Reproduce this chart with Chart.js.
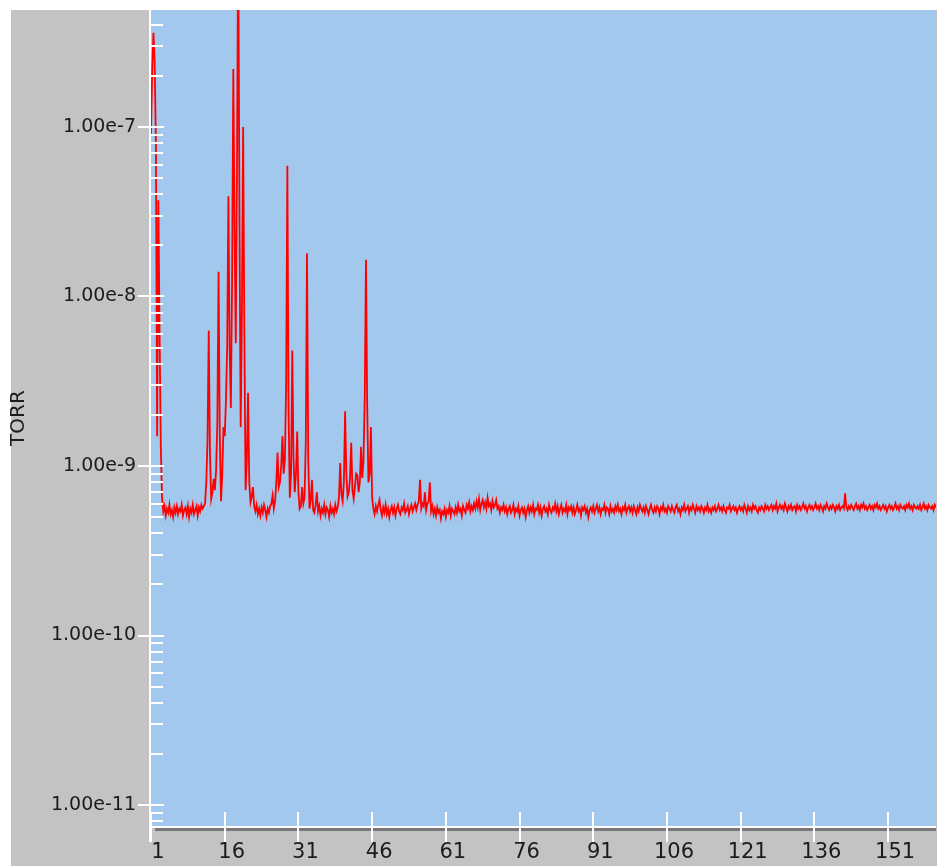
<!DOCTYPE html>
<html>
<head>
<meta charset="utf-8">
<script src="https://cdn.jsdelivr.net/npm/chart.js@4.4.1/dist/chart.umd.min.js"></script>
<style>
html,body{margin:0;padding:0;background:#ffffff;overflow:hidden}
canvas{display:block}
</style>
</head>
<body>
<canvas id="c" width="937" height="866"></canvas>
<script>
// ---- data ----
const massStart = 1;        // amu of the first sample
const massStep = 0.25;      // amu between samples
const xTickValues = [1, 16, 31, 46, 61, 76, 91, 106, 121, 136, 151];
const yDecadeTicks = [1e-11, 1e-10, 1e-9, 1e-8, 1e-7];
const yAxisTitle = 'TORR';
const yMin = 7.52e-12;
const yMax = 4.9e-7;
const xMin = 1;
const xMax = 160.75;

// pressure in Torr, 8 samples per row (2 amu per row)
const pressureTorr = [
/*   1 */ 9e-8, 2.2e-7, 3.6e-7, 2.4e-7, 8e-8, 1.5e-9, 3.7e-8, 6e-9,
/*   3 */ 1.3e-9, 6.5e-10, 5.4e-10, 5.8e-10, 5.1e-10, 5.6e-10, 5.3e-10, 5.9e-10,
/*   5 */ 5.2e-10, 5.5e-10, 5.0e-10, 5.7e-10, 5.3e-10, 5.8e-10, 5.2e-10, 5.6e-10,
/*   7 */ 5.4e-10, 5.9e-10, 5.1e-10, 5.5e-10, 5.7e-10, 5.2e-10, 5.8e-10, 5.0e-10,
/*   9 */ 5.6e-10, 5.3e-10, 5.9e-10, 5.2e-10, 5.5e-10, 5.8e-10, 5.1e-10, 5.7e-10,
/*  11 */ 5.4e-10, 5.9e-10, 5.6e-10, 5.8e-10, 6.0e-10, 8.0e-10, 1.4e-9, 6.3e-9,
/*  13 */ 1.2e-9, 6.4e-10, 7.0e-10, 8.4e-10, 7.2e-10, 9.5e-10, 1.8e-9, 1.4e-8,
/*  15 */ 1.5e-9, 6.2e-10, 9.0e-10, 1.7e-9, 1.5e-9, 2.4e-9, 5.0e-9, 3.9e-8,
/*  17 */ 5.0e-9, 2.2e-9, 1.2e-8, 2.2e-7, 2.5e-8, 5.3e-9, 6.0e-8, 1.5e-6,
/*  19 */ 3.0e-8, 1.7e-9, 8.0e-9, 1.0e-7, 6.0e-9, 7.2e-10, 1.1e-9, 2.7e-9,
/*  21 */ 8.0e-10, 6.1e-10, 6.6e-10, 7.5e-10, 5.8e-10, 5.4e-10, 5.9e-10, 5.2e-10,
/*  23 */ 5.6e-10, 5.1e-10, 5.7e-10, 5.3e-10, 5.9e-10, 5.5e-10, 5.0e-10, 5.6e-10,
/*  25 */ 5.3e-10, 5.8e-10, 6.0e-10, 6.7e-10, 5.6e-10, 6.2e-10, 8.0e-10, 1.2e-9,
/*  27 */ 7.5e-10, 8.0e-10, 1.0e-9, 1.5e-9, 9.0e-10, 1.1e-9, 3.0e-9, 5.9e-8,
/*  29 */ 2.0e-9, 6.5e-10, 9.0e-10, 4.8e-9, 1.1e-9, 7.0e-10, 9.0e-10, 1.6e-9,
/*  31 */ 7.0e-10, 5.6e-10, 5.8e-10, 7.5e-10, 6.0e-10, 6.5e-10, 1.4e-9, 1.8e-8,
/*  33 */ 1.1e-9, 5.6e-10, 6.2e-10, 8.3e-10, 5.5e-10, 5.3e-10, 5.9e-10, 7.0e-10,
/*  35 */ 5.4e-10, 5.8e-10, 5.1e-10, 5.6e-10, 5.3e-10, 5.9e-10, 5.2e-10, 5.7e-10,
/*  37 */ 5.5e-10, 5.0e-10, 5.8e-10, 5.3e-10, 5.6e-10, 5.2e-10, 5.9e-10, 5.4e-10,
/*  39 */ 5.7e-10, 6.5e-10, 1.04e-9, 6.8e-10, 6.2e-10, 8.0e-10, 2.1e-9, 9.0e-10,
/*  41 */ 6.6e-10, 7.0e-10, 8.5e-10, 1.37e-9, 7.2e-10, 6.4e-10, 7.5e-10, 9.0e-10,
/*  43 */ 8.8e-10, 7.0e-10, 8.0e-10, 1.3e-9, 8.5e-10, 1.1e-9, 2.6e-9, 1.65e-8,
/*  45 */ 2.2e-9, 8.0e-10, 9.0e-10, 1.7e-9, 6.5e-10, 5.6e-10, 5.2e-10, 5.8e-10,
/*  47 */ 5.4e-10, 5.9e-10, 6.3e-10, 5.5e-10, 5.1e-10, 5.7e-10, 5.3e-10, 5.9e-10,
/*  49 */ 5.2e-10, 5.6e-10, 5.0e-10, 5.5e-10, 5.8e-10, 5.3e-10, 5.7e-10, 5.1e-10,
/*  51 */ 5.6e-10, 5.9e-10, 5.4e-10, 5.2e-10, 5.7e-10, 5.5e-10, 6.0e-10, 5.3e-10,
/*  53 */ 5.5e-10, 5.8e-10, 5.2e-10, 5.6e-10, 5.9e-10, 5.4e-10, 5.7e-10, 6.0e-10,
/*  55 */ 5.5e-10, 5.9e-10, 6.2e-10, 8.3e-10, 5.6e-10, 6.0e-10, 5.8e-10, 7.0e-10,
/*  57 */ 5.5e-10, 6.0e-10, 6.2e-10, 8.0e-10, 5.4e-10, 5.8e-10, 5.2e-10, 5.6e-10,
/*  59 */ 5.1e-10, 5.7e-10, 5.3e-10, 5.5e-10, 4.9e-10, 5.4e-10, 5.2e-10, 5.6e-10,
/*  61 */ 5.0e-10, 5.5e-10, 5.3e-10, 5.8e-10, 5.1e-10, 5.6e-10, 5.4e-10, 5.2e-10,
/*  63 */ 5.7e-10, 5.3e-10, 5.9e-10, 5.4e-10, 5.6e-10, 5.1e-10, 5.8e-10, 5.5e-10,
/*  65 */ 5.3e-10, 5.9e-10, 5.6e-10, 6.1e-10, 5.4e-10, 5.8e-10, 5.5e-10, 6.0e-10,
/*  67 */ 5.6e-10, 6.2e-10, 5.7e-10, 6.4e-10, 5.5e-10, 6.0e-10, 6.3e-10, 5.7e-10,
/*  69 */ 6.1e-10, 5.6e-10, 6.5e-10, 5.8e-10, 6.0e-10, 5.5e-10, 6.2e-10, 5.7e-10,
/*  71 */ 5.9e-10, 6.3e-10, 5.6e-10, 5.8e-10, 5.3e-10, 5.7e-10, 5.5e-10, 5.9e-10,
/*  73 */ 5.4e-10, 5.7e-10, 5.2e-10, 5.6e-10, 5.8e-10, 5.3e-10, 5.5e-10, 5.9e-10,
/*  75 */ 5.2e-10, 5.6e-10, 5.4e-10, 5.8e-10, 5.1e-10, 5.5e-10, 5.7e-10, 5.3e-10,
/*  77 */ 5.6e-10, 5.0e-10, 5.5e-10, 5.8e-10, 5.3e-10, 5.7e-10, 5.4e-10, 5.9e-10,
/*  79 */ 5.2e-10, 5.6e-10, 5.5e-10, 5.9e-10, 5.3e-10, 5.7e-10, 5.1e-10, 5.6e-10,
/*  81 */ 5.8e-10, 5.4e-10, 5.6e-10, 5.2e-10, 5.9e-10, 5.5e-10, 5.3e-10, 5.7e-10,
/*  83 */ 5.5e-10, 6.0e-10, 5.4e-10, 5.8e-10, 5.2e-10, 5.6e-10, 5.9e-10, 5.3e-10,
/*  85 */ 5.6e-10, 5.4e-10, 5.9e-10, 5.2e-10, 5.7e-10, 5.5e-10, 5.8e-10, 5.3e-10,
/*  87 */ 5.7e-10, 5.2e-10, 5.5e-10, 5.9e-10, 5.4e-10, 5.6e-10, 5.1e-10, 5.7e-10,
/*  89 */ 5.5e-10, 5.8e-10, 5.3e-10, 5.6e-10, 5.0e-10, 5.5e-10, 5.7e-10, 5.4e-10,
/*  91 */ 5.8e-10, 5.3e-10, 5.6e-10, 5.9e-10, 5.4e-10, 5.7e-10, 5.2e-10, 5.6e-10,
/*  93 */ 5.5e-10, 5.9e-10, 5.3e-10, 5.7e-10, 5.6e-10, 5.2e-10, 5.8e-10, 5.4e-10,
/*  95 */ 5.6e-10, 5.3e-10, 5.8e-10, 5.5e-10, 5.9e-10, 5.4e-10, 5.6e-10, 5.2e-10,
/*  97 */ 5.7e-10, 5.5e-10, 5.9e-10, 5.3e-10, 5.6e-10, 5.8e-10, 5.4e-10, 5.7e-10,
/*  99 */ 5.3e-10, 5.8e-10, 5.5e-10, 5.2e-10, 5.7e-10, 5.4e-10, 5.9e-10, 5.6e-10,
/* 101 */ 5.4e-10, 5.7e-10, 5.3e-10, 5.8e-10, 5.5e-10, 5.2e-10, 5.6e-10, 5.9e-10,
/* 103 */ 5.5e-10, 5.3e-10, 5.7e-10, 5.4e-10, 5.8e-10, 5.6e-10, 5.2e-10, 5.7e-10,
/* 105 */ 5.5e-10, 5.9e-10, 5.4e-10, 5.6e-10, 5.3e-10, 5.8e-10, 5.6e-10, 5.4e-10,
/* 107 */ 5.8e-10, 5.5e-10, 5.3e-10, 5.7e-10, 5.9e-10, 5.4e-10, 5.6e-10, 5.2e-10,
/* 109 */ 5.7e-10, 5.5e-10, 5.9e-10, 5.4e-10, 5.6e-10, 5.8e-10, 5.3e-10, 5.7e-10,
/* 111 */ 5.5e-10, 5.9e-10, 5.6e-10, 5.3e-10, 5.8e-10, 5.5e-10, 5.7e-10, 5.4e-10,
/* 113 */ 5.8e-10, 5.6e-10, 5.3e-10, 5.7e-10, 5.5e-10, 5.9e-10, 5.4e-10, 5.6e-10,
/* 115 */ 5.3e-10, 5.7e-10, 5.5e-10, 5.8e-10, 5.4e-10, 5.6e-10, 5.9e-10, 5.5e-10,
/* 117 */ 5.7e-10, 5.4e-10, 5.8e-10, 5.5e-10, 5.3e-10, 5.7e-10, 5.6e-10, 5.9e-10,
/* 119 */ 5.4e-10, 5.6e-10, 5.8e-10, 5.5e-10, 5.7e-10, 5.3e-10, 5.6e-10, 5.8e-10,
/* 121 */ 5.5e-10, 5.7e-10, 5.4e-10, 5.9e-10, 5.6e-10, 5.3e-10, 5.8e-10, 5.5e-10,
/* 123 */ 5.7e-10, 5.4e-10, 5.9e-10, 5.6e-10, 5.8e-10, 5.5e-10, 5.3e-10, 5.7e-10,
/* 125 */ 5.5e-10, 5.8e-10, 5.6e-10, 5.4e-10, 5.9e-10, 5.6e-10, 5.8e-10, 5.5e-10,
/* 127 */ 5.7e-10, 5.9e-10, 5.5e-10, 5.8e-10, 5.6e-10, 6.0e-10, 5.4e-10, 5.7e-10,
/* 129 */ 5.9e-10, 5.6e-10, 5.8e-10, 5.5e-10, 6.0e-10, 5.7e-10, 5.4e-10, 5.8e-10,
/* 131 */ 5.6e-10, 5.9e-10, 5.5e-10, 5.7e-10, 5.8e-10, 5.4e-10, 5.9e-10, 5.6e-10,
/* 133 */ 5.8e-10, 5.5e-10, 5.7e-10, 6.0e-10, 5.6e-10, 5.8e-10, 5.4e-10, 5.7e-10,
/* 135 */ 5.9e-10, 5.6e-10, 5.8e-10, 5.5e-10, 5.7e-10, 6.0e-10, 5.6e-10, 5.8e-10,
/* 137 */ 5.5e-10, 5.9e-10, 5.7e-10, 5.4e-10, 5.8e-10, 5.6e-10, 6.0e-10, 5.7e-10,
/* 139 */ 5.5e-10, 5.8e-10, 5.6e-10, 5.9e-10, 5.7e-10, 5.4e-10, 5.8e-10, 5.6e-10,
/* 141 */ 5.9e-10, 5.5e-10, 5.7e-10, 5.8e-10, 5.6e-10, 6.9e-10, 5.7e-10, 5.5e-10,
/* 143 */ 5.8e-10, 5.6e-10, 5.9e-10, 5.7e-10, 5.5e-10, 5.8e-10, 6.0e-10, 5.6e-10,
/* 145 */ 5.8e-10, 5.5e-10, 5.9e-10, 5.7e-10, 6.0e-10, 5.6e-10, 5.8e-10, 5.5e-10,
/* 147 */ 5.7e-10, 5.9e-10, 5.6e-10, 5.8e-10, 5.5e-10, 5.9e-10, 5.7e-10, 6.0e-10,
/* 149 */ 5.6e-10, 5.8e-10, 5.5e-10, 5.7e-10, 5.9e-10, 5.6e-10, 5.8e-10, 5.4e-10,
/* 151 */ 5.7e-10, 5.9e-10, 5.6e-10, 5.8e-10, 5.5e-10, 5.7e-10, 6.0e-10, 5.6e-10,
/* 153 */ 5.8e-10, 5.5e-10, 5.9e-10, 5.7e-10, 5.6e-10, 5.8e-10, 5.5e-10, 5.9e-10,
/* 155 */ 5.7e-10, 6.0e-10, 5.6e-10, 5.8e-10, 5.5e-10, 5.9e-10, 5.7e-10, 5.6e-10,
/* 157 */ 5.8e-10, 5.6e-10, 5.9e-10, 5.5e-10, 5.7e-10, 6.0e-10, 5.6e-10, 5.8e-10,
/* 159 */ 5.5e-10, 5.9e-10, 5.7e-10, 5.6e-10, 5.8e-10, 5.5e-10, 5.9e-10, 5.7e-10
];

// ---- build the table the library needs ----
const points = pressureTorr.map((p, i) => ({ x: massStart + i * massStep, y: p }));
const yMinorTicks = [];
for (const d of [1e-12, 1e-11, 1e-10, 1e-9, 1e-8, 1e-7]) {
  for (let k = 2; k <= 9; k++) {
    const v = k * d;
    if (v >= yMin && v <= yMax) yMinorTicks.push(v);
  }
}
const yAllTicks = yDecadeTicks.concat(yMinorTicks).sort((a, b) => a - b);
const isDecade = v => Math.abs(Math.log10(v) - Math.round(Math.log10(v))) < 1e-6;

const FONT = "'DejaVu Sans', 'Liberation Sans', Arial, sans-serif";

const framePlugin = {
  id: 'frame',
  beforeDraw(chart) {
    const { ctx, chartArea: a, width, height } = chart;
    ctx.save();
    ctx.fillStyle = '#ffffff';
    ctx.fillRect(0, 0, width, height);
    ctx.fillStyle = '#c3c3c3';
    ctx.fillRect(11, 10, width - 11, height - 10);
    ctx.fillStyle = '#a3c8ee';
    ctx.fillRect(a.left, a.top, a.right - a.left, a.bottom - a.top);
    ctx.restore();
  },
  afterDatasetsDraw(chart) {
    const { ctx, chartArea: a, scales } = chart;
    const xs = scales.x, ys = scales.y;
    ctx.save();
    // shadow under the x axis
    ctx.fillStyle = '#787878';
    ctx.fillRect(a.left + 4, a.bottom + 2, a.right - a.left - 4, 3);
    ctx.strokeStyle = '#ffffff';
    ctx.lineWidth = 2;
    const seg = (x1, y1, x2, y2) => { ctx.beginPath(); ctx.moveTo(x1, y1); ctx.lineTo(x2, y2); ctx.stroke(); };
    // axis lines
    seg(a.left - 1, a.top, a.left - 1, a.bottom + 16);
    seg(a.left - 2, a.bottom + 1, a.right, a.bottom + 1);
    // y ticks
    for (const t of ys.ticks) {
      const py = Math.round(ys.getPixelForValue(t.value));
      if (isDecade(t.value)) seg(a.left - 13, py, a.left + 13, py);
      else seg(a.left, py, a.left + 12, py);
    }
    // x ticks
    for (const t of xs.ticks) {
      const px = Math.round(xs.getPixelForValue(t.value));
      seg(px, a.bottom - 14, px, a.bottom + 16);
    }
    ctx.restore();
  }
};

new Chart(document.getElementById('c'), {
  type: 'line',
  data: {
    datasets: [{
      data: points,
      borderColor: '#ff0000',
      borderWidth: 1.8,
      pointRadius: 0,
      tension: 0,
      fill: false
    }]
  },
  options: {
    responsive: false,
    devicePixelRatio: 1,
    animation: false,
    layout: { padding: { top: 10, right: 1, left: 0, bottom: 0 } },
    plugins: { legend: { display: false }, tooltip: { enabled: false } },
    scales: {
      x: {
        type: 'linear',
        position: 'bottom',
        min: xMin,
        max: xMax,
        grid: { display: false, drawTicks: false },
        border: { display: false },
        afterBuildTicks: s => { s.ticks = xTickValues.map(v => ({ value: v })); },
        afterFit: s => { s.height = 40; s.paddingLeft = 0; s.paddingRight = 0; },
        ticks: {
          autoSkip: false,
          maxRotation: 0,
          padding: 14,
          labelOffset: 7,
          color: '#1c1c1c',
          font: { family: FONT, size: 21 },
          callback: v => String(v)
        }
      },
      y: {
        type: 'logarithmic',
        position: 'left',
        min: yMin,
        max: yMax,
        grid: { display: false, drawTicks: false },
        border: { display: false },
        afterBuildTicks: s => { s.ticks = yAllTicks.map(v => ({ value: v })); },
        afterFit: s => { s.width = 151; s.paddingTop = 0; s.paddingBottom = 0; },
        title: {
          display: true,
          text: yAxisTitle,
          color: '#1c1c1c',
          font: { family: FONT, size: 20 },
          padding: { top: 7, bottom: 0 }
        },
        ticks: {
          autoSkip: false,
          padding: 15,
          color: '#1c1c1c',
          font: { family: FONT, size: 19 },
          callback: v => (isDecade(v) ? Number(v).toExponential(2) : '')
        }
      }
    }
  },
  plugins: [framePlugin]
});
</script>
</body>
</html>
